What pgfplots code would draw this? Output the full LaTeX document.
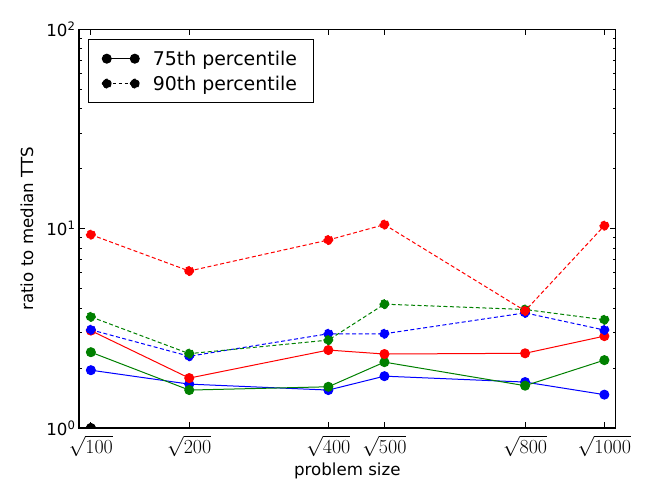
\documentclass[border=0pt]{standalone}
\usepackage{graphicx}
\usepackage{fontspec}
\setmainfont{DejaVu Sans}
\usepackage{pgfplots}
\pgfplotsset{compat=1.18}
\definecolor{mblue}{RGB}{0,0,255}
\definecolor{mgreen}{RGB}{0,128,0}
\definecolor{mred}{RGB}{255,0,0}
\newcommand\sq[1]{\scalebox{1.16}{$\sqrt{#1}$}}
\begin{document}
\begin{tikzpicture}
\path[use as bounding box] (-79bp,-72bp) rectangle (571bp,428bp);
\begin{axis}[
  at={(0,0)}, anchor=south west,
  scale only axis, width=536.7bp, height=398.7bp,
  xmin=9.5, xmax=32.1,
  ymode=log, ymin=1, ymax=100,
  xtick={10,14.1421,20,22.3607,28.2843,31.6228},
  xticklabels={\sq{100},\sq{200},\sq{400},\sq{500},\sq{800},\sq{1000}},
  ytick={1,10,100},
  yticklabels={10\textsuperscript{0},10\textsuperscript{1},10\textsuperscript{2}},
  minor ytick={2,3,4,5,6,7,8,9,20,30,40,50,60,70,80,90},
  tick align=inside,
  major tick length=6bp, minor tick length=3bp,
  every tick/.style={black, line width=0.8bp},
  axis line style={line width=1.2bp},
  xlabel={problem size}, ylabel={ratio to median TTS},
  xlabel style={at={(axis description cs:0.5,-0.108)}, anchor=center},
  ylabel style={at={(axis description cs:-0.097,0.5)}, anchor=center},
  label style={font=\fontsize{16.7}{20}\selectfont},
  tick label style={font=\fontsize{16.7}{20}\selectfont},
  xticklabel style={yshift=-4bp},
  clip marker paths=true,
  legend style={at={(axis description cs:0.0173,0.975)}, anchor=north west,
    draw=black, line width=1bp, font=\fontsize{19}{23}\selectfont,
    inner xsep=13.5bp, inner ysep=8bp, row sep=3bp, column sep=10.5bp,
    nodes={inner sep=3bp}},
  legend cell align=left,
  legend image code/.code={\draw[#1] plot coordinates {(0bp,0bp) (28bp,0bp)};},
  every axis plot/.append style={line width=1bp, mark=*, mark size=4.5bp,
    mark options={draw=black, line width=0.5bp, solid}},
]
\addplot[black, solid, mark options={fill=black}] coordinates {(10,1)};
\addlegendentry{75th percentile\hspace{-7bp}}
\addplot[black, dashed, mark options={fill=black}] coordinates {(10,1)};
\addlegendentry{90th percentile\hspace{-7bp}}

\addplot[mblue, mark options={fill=mblue}, forget plot] coordinates {(10,1.95) (14.1421,1.66) (20,1.55) (22.3607,1.82) (28.2843,1.70) (31.6228,1.47)};
\addplot[mgreen, mark options={fill=mgreen}, forget plot] coordinates {(10,2.40) (14.1421,1.55) (20,1.61) (22.3607,2.14) (28.2843,1.63) (31.6228,2.19)};
\addplot[mred, mark options={fill=mred}, forget plot] coordinates {(10,3.08) (14.1421,1.78) (20,2.46) (22.3607,2.35) (28.2843,2.37) (31.6228,2.89)};

\addplot[mblue, dash pattern=on 4bp off 2.5bp, mark options={fill=mblue}, forget plot] coordinates {(10,3.11) (14.1421,2.29) (20,2.97) (22.3607,2.97) (28.2843,3.78) (31.6228,3.10)};
\addplot[mgreen, dash pattern=on 4bp off 2.5bp, mark options={fill=mgreen}, forget plot] coordinates {(10,3.61) (14.1421,2.36) (20,2.76) (22.3607,4.18) (28.2843,3.93) (31.6228,3.49)};
\addplot[mred, dash pattern=on 4bp off 2.5bp, mark options={fill=mred}, forget plot] coordinates {(10,9.33) (14.1421,6.13) (20,8.77) (22.3607,10.48) (28.2843,3.87) (31.6228,10.35)};
\end{axis}
\end{tikzpicture}
\end{document}
